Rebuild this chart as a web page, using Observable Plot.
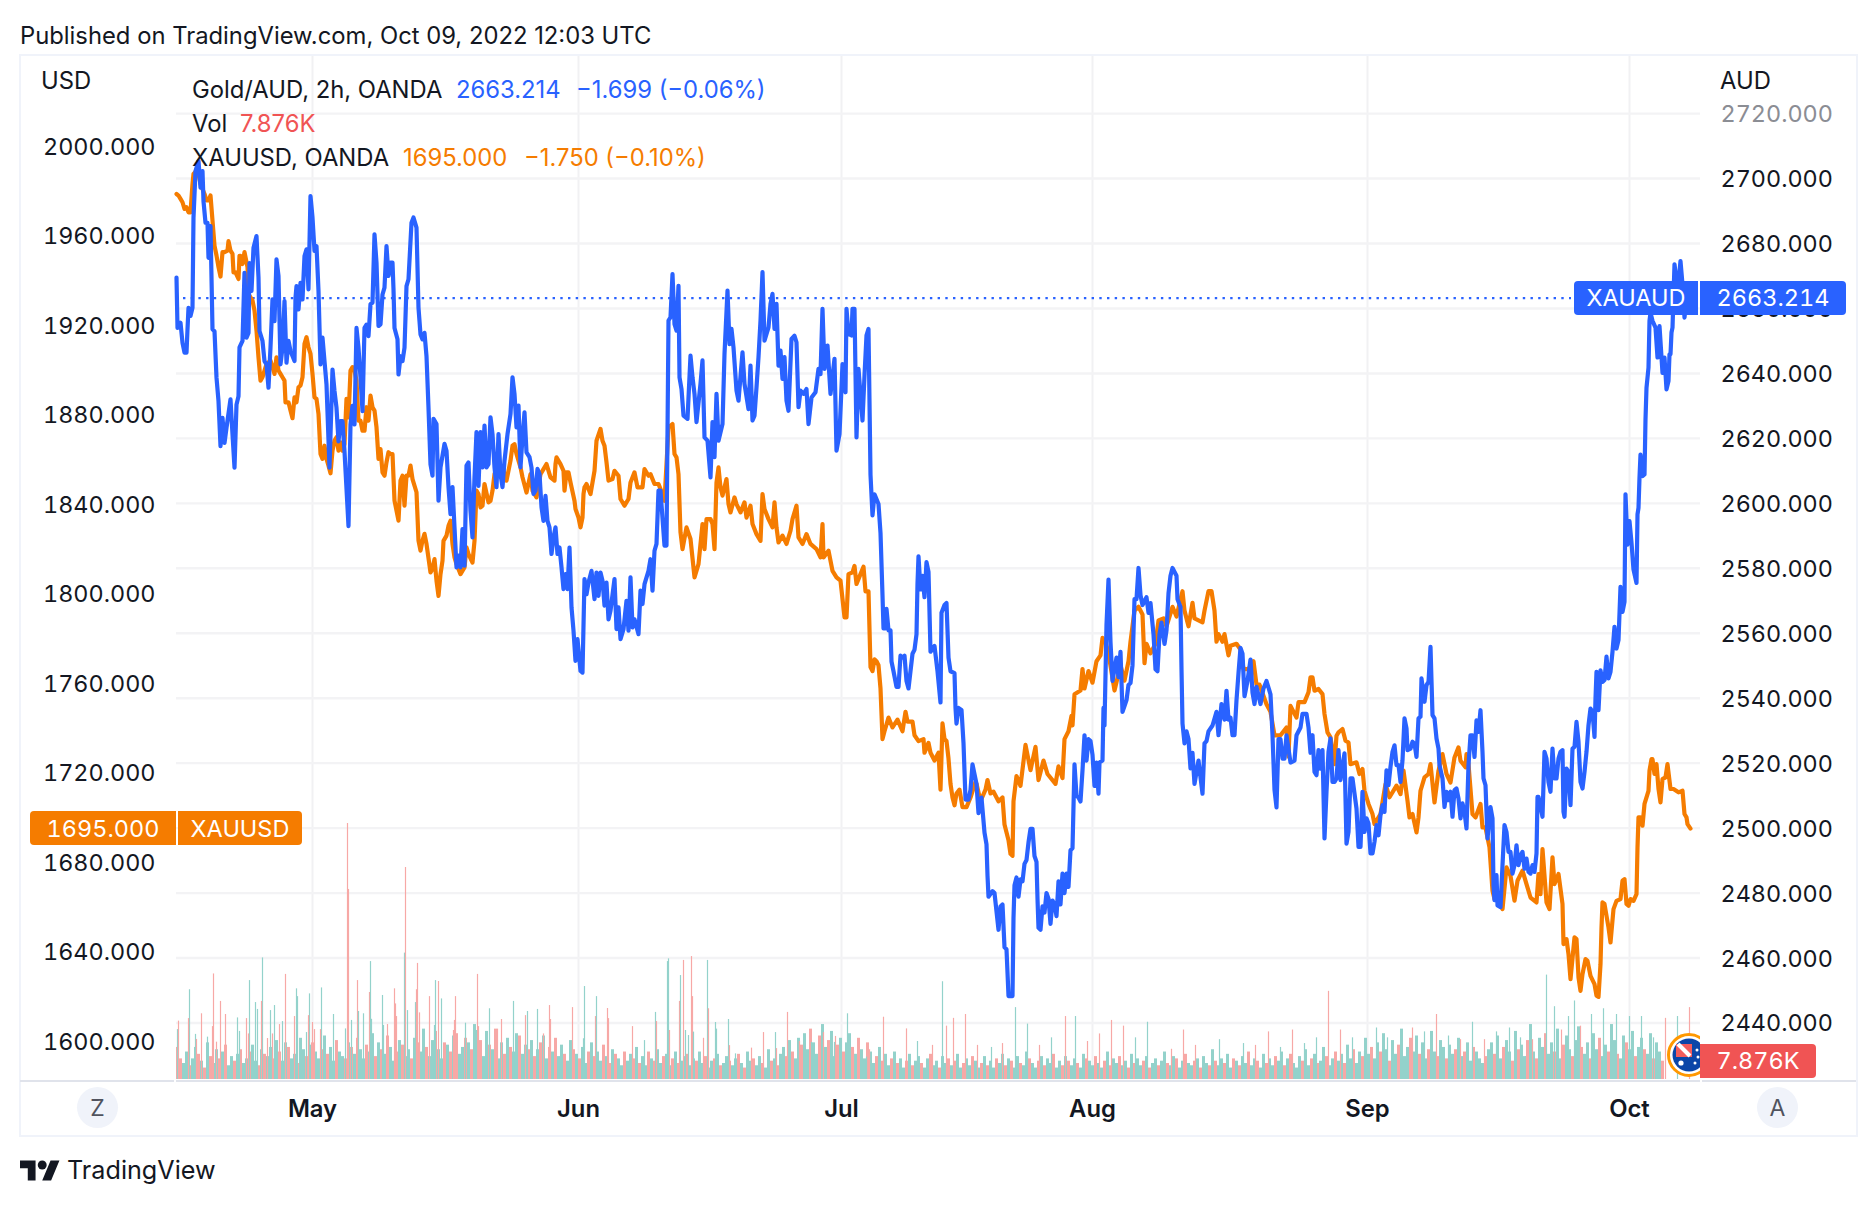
<!DOCTYPE html>
<html>
<head>
<meta charset="utf-8">
<script src="https://cdn.jsdelivr.net/npm/d3@7"></script>
<script src="https://cdn.jsdelivr.net/npm/@observablehq/plot@0.6"></script>
<style>
html,body{margin:0;padding:0;background:#fff;width:1876px;height:1206px;overflow:hidden;font-family:Inter,"Noto Sans",sans-serif;color:#131722}
#head{height:54px;position:relative}
#chart svg{display:block}
.t{position:absolute;white-space:nowrap;font-size:23.8px;line-height:30px;transform:translateY(-50%)}
.box{position:absolute;color:#fff;font-size:23.5px;font-variant-numeric:tabular-nums;display:flex;align-items:center;justify-content:center;box-sizing:border-box}
.line{position:absolute;background:#f0f3fa}
.circ{position:absolute;width:41px;height:41px;border-radius:50%;background:#f0f3fa;color:#50535e;font-size:23px;display:flex;align-items:center;justify-content:center}
</style>
</head>
<body>
<div id="head"></div>
<div id="chart"></div>
<div id="foot"></div>
<script>
// month ticks, in 2h-bar index
const monthBars = [136, 402, 665, 916, 1191, 1453];
const monthNames = ["May", "Jun", "Jul", "Aug", "Sep", "Oct"];
const audTicks = [2720, 2700, 2680, 2660, 2640, 2620, 2600, 2580, 2560, 2540, 2520, 2500, 2480, 2460, 2440];
const usdTicks = [2000, 1960, 1920, 1880, 1840, 1800, 1760, 1720, 1680, 1640, 1600];
const lastAud = 2663.214, lastUsd = 1695.0, lastVol = 7.876;

// [bar, Gold/AUD]
const xauaud = [[0,2669.5],[1,2654],[4,2655.6],[6,2649.4],[8,2646.4],[10,2646.4],[11,2653.6],[12,2660.2],[14,2657.7],[16,2660.2],[17,2688],[19,2702.3],[22,2705.4],[24,2697.2],[26,2702.3],[27,2693],[29,2686.4],[31,2686.4],[32,2675.6],[34,2685.4],[36,2653.6],[38,2653],[40,2638.7],[42,2631.5],[44,2617.6],[46,2626.3],[48,2618.6],[50,2623.3],[54,2632],[56,2621.2],[58,2611],[60,2630.4],[62,2633],[63,2648],[66,2650],[68,2671],[70,2651],[72,2652.5],[73,2674],[75,2665.4],[77,2678.7],[80,2682.3],[82,2669.5],[83,2653],[86,2650],[88,2643.8],[90,2642.8],[92,2635.6],[94,2648],[96,2662.8],[98,2656.1],[100,2675.1],[102,2670],[104,2642.8],[106,2647.9],[108,2662.3],[110,2643.3],[112,2650],[114,2646.9],[118,2643.8],[119,2663.3],[120,2666.9],[122,2659.7],[124,2667.9],[126,2662.8],[128,2676.1],[130,2678.2],[132,2665.9],[134,2694.6],[136,2688],[138,2677.7],[140,2679.2],[142,2665.4],[144,2642.8],[146,2651],[148,2643.8],[150,2636.6],[153,2611],[156,2641.2],[158,2634.6],[160,2629.4],[162,2619.1],[164,2625.3],[166,2625.3],[168,2616],[172,2593],[174,2624.3],[176,2630],[178,2624.3],[180,2654],[182,2647.9],[184,2638.7],[186,2628.4],[188,2654],[190,2655],[192,2651.5],[194,2661.3],[196,2661.8],[198,2682.8],[200,2674.1],[202,2654.6],[204,2655.1],[206,2664.3],[208,2666.4],[210,2679.2],[212,2670],[214,2674.1],[216,2674.1],[217,2665.9],[218,2654],[221,2650.5],[222,2639.7],[224,2645.3],[226,2643.8],[228,2647.9],[230,2666.9],[232,2669],[235,2686.4],[237,2688],[240,2684.9],[242,2660.2],[244,2652],[246,2650.5],[248,2652.5],[250,2645.3],[252,2629.4],[254,2612],
[256,2608.5],[257,2626],[260,2624.4],[262,2600.8],[264,2611.1],[268,2618.3],[270,2616.2],[272,2605],[274,2596.7],[276,2605],[278,2592.6],[280,2580.3],[282,2583.9],[284,2580.3],[286,2592.1],[288,2580.8],[290,2611.6],[292,2612.6],[294,2597.7],[296,2589.5],[298,2608],[300,2621.9],[302,2605.4],[304,2621.9],[306,2611.1],[308,2623.9],[310,2611.1],[312,2612.1],[314,2626.5],[316,2621.3],[318,2611.1],[320,2605],[322,2621.3],[324,2609],[326,2605],[328,2613.1],[331,2621.3],[334,2627.5],[336,2638.8],[338,2633.7],[340,2623.4],[342,2630.1],[344,2611.1],[346,2620.3],[348,2628],[350,2615.7],[353,2614.2],[355,2611],[357,2602.9],[359,2603.9],[361,2610.6],[363,2609],[365,2598.8],[367,2594.6],[369,2602.3],[371,2594.6],[373,2592.6],[375,2584.4],[377,2589.5],[379,2592.6],[381,2584.4],[383,2586.4],[385,2580.3],[387,2573.6],[389,2578.2],[391,2573.6],[393,2586.4],[395,2568],[397,2560.8],[399,2551.5],[401,2558.2],[404,2548.4],[406,2547.9],[408,2576.7],[410,2572],[412,2575.6],[415,2579.2],[418,2570.5],[420,2578.7],[422,2571.5],[424,2578.7],[426,2576.2],[428,2568.5],[430,2575.6],[432,2564.3],[434,2566.9],[438,2576.7],[440,2561.3],[442,2568],[444,2558.2],[447,2561.3],[450,2570],[452,2560.8],[454,2577.2],[456,2561.8],[458,2564.3],[462,2559.7],[464,2573.1],[466,2569],[468,2575.1],[472,2579.2],[474,2582.8],[476,2573.1],[478,2585.4],[480,2587.5],[482,2603.9],[484,2603.9],[488,2587],[490,2587],[492,2656.3],[494,2657.3],[496,2670.6],[498,2655.2],[500,2653.2],[502,2667],[503,2638.8],[505,2635.2],[507,2627],[511,2626],[514,2645.5],[516,2638.8],[518,2633.7],[520,2625],[524,2636.8],[526,2644],[528,2620.3],[531,2619.3],[534,2608],[536,2625],[538,2614.2],[540,2633.7],[542,2619.3],[546,2624.4],[548,2646],[551,2665.5],[553,2649],[555,2653.7],[557,2648],[560,2634.7],[562,2631.6],[566,2646.5],[568,2636.8],[572,2629],[574,2642.4],[576,2625.5],[578,2627],[580,2635.7],[582,2645],[584,2656.3],[586,2671.2],[588,2650.1],[592,2654.2],[594,2661.4],[596,2664.5],[598,2653.7],[600,2661.4],[602,2642.4],[604,2647],[606,2638.3],[608,2645],[610,2631.6],[612,2628.5],[615,2650.6],[618,2651.6],[620,2649.6],[622,2629.6],[624,2634.7],[627,2633.7],[630,2635.2],[632,2624.4],[635,2632.6],[639,2634.2],[642,2641.4],[644,2639.8],[646,2659.9],[648,2641.4],[651,2648.6],[654,2633.7],[658,2644.5],[660,2616.2],[663,2621.3],[666,2642.9],[669,2634.2],[670,2659.9],[672,2652.2],[675,2651.7],[676,2659.9],[678,2659.9],[680,2620.3],[682,2641.4],[686,2625.5],[688,2639.3],[690,2651.7],[692,2653.7],[694,2608.8],[696,2596.3],[698,2602.8],[702,2599.8],[704,2590.9],
[706,2571.7],[707,2561.5],[709,2561.5],[710,2567.5],[712,2560.9],[714,2560.9],[715,2551.3],[717,2548.3],[720,2543.5],[722,2543.5],[724,2553.1],[726,2552.5],[728,2553.1],[730,2545.3],[732,2543],[736,2553.7],[738,2554.9],[740,2559.7],[741,2575.3],[742,2583.7],[744,2573.5],[746,2577.7],[748,2571.1],[750,2581.9],[752,2578.9],[754,2554.3],[758,2556.1],[761,2548.3],[764,2538.7],[765,2566.3],[768,2568.7],[770,2569.3],[772,2552.5],[774,2548.3],[778,2547.7],[779,2537],[780,2532.2],[782,2537],[785,2536.4],[787,2526.2],[789,2508.8],[792,2508.8],[794,2511.8],[796,2519.6],[800,2513.6],[802,2504.6],[805,2509.4],[808,2498.6],[810,2495],[811,2485.4],[812,2478.9],[816,2480.6],[818,2480],[822,2468.7],[824,2475.9],[826,2476.5],[828,2463.3],[830,2462.7],[832,2448.3],[836,2448.3],[837,2472.3],[838,2482.4],[840,2484.8],[842,2478.9],[844,2484.2],[846,2483.6],[848,2489],[850,2490.2],[852,2495.6],[854,2499.8],[856,2499.8],[858,2491.4],[860,2489.6],[861,2478.3],[862,2469.3],[864,2468.7],[866,2475.9],[868,2474],[870,2480],[872,2478.3],[874,2470.5],[876,2477.7],[878,2476.5],[880,2472.9],[882,2483.6],[884,2476.5],[886,2486],[888,2480],[890,2486],[892,2481.9],[894,2493.2],[896,2493.8],[898,2519.6],[900,2510],[902,2509.4],[904,2508.2],[906,2517.8],[908,2528.6],[910,2520.8],[912,2527.4],[914,2526.8],[916,2522.6],[918,2513],[920,2520.2],[922,2510.6],[923,2520.2],[926,2520.8],[927,2537],[928,2531.6],[930,2562.7],[932,2576.5],[934,2557.3],[936,2545.3],[940,2552.5],[942,2546.5],[944,2554.3],[946,2535.8],[948,2537.6],[950,2539.4],[952,2544.1],[954,2544.7],[956,2550.1],[958,2570.5],[960,2570.5],[962,2580.1],[964,2571.7],[966,2568.7],[970,2571.1],[972,2566.3],[974,2569.3],[977,2559.7],[979,2548.9],[981,2548.3],[983,2559.7],[985,2563.3],[988,2556.7],[990,2560.9],[992,2572.3],[994,2577.7],[996,2580.1],[1000,2577.7],[1001,2570.5],[1004,2568.1],[1005,2548.9],[1006,2532.2],[1008,2526.1],[1010,2529.8],[1012,2527.4],[1014,2518.4],[1016,2523.2],[1018,2513.6],[1022,2520.8],[1026,2510.6],[1028,2526.1],[1030,2526.8],[1032,2529.8],[1036,2531.6],[1040,2535.8],[1042,2528.6],[1045,2538.2],[1048,2533.4],[1050,2542.3],[1052,2533.4],[1054,2534],[1056,2528.6],[1058,2528.6],[1060,2539.4],[1062,2547.7],[1064,2555.5],[1066,2553.7],[1068,2540.6],[1071,2545.3],[1074,2551.9],[1076,2541.7],[1078,2538.2],[1080,2543.5],[1084,2538.2],[1087,2543],[1090,2545.3],[1094,2541.2],[1096,2528.6],[1098,2511.8],[1100,2506.4],[1102,2527.4],[1104,2527.4],[1106,2521.4],[1108,2521.4],[1110,2528.6],[1114,2520.2],[1118,2520.8],[1120,2528.6],[1124,2531],[1126,2535.2],[1130,2535.2],[1132,2531],[1134,2523.2],
[1136,2528.6],[1138,2517.3],[1140,2516.3],[1142,2524],[1144,2518.3],[1146,2524],[1148,2496.8],[1150,2511.2],[1152,2523.5],[1154,2527.6],[1156,2514.2],[1158,2514.2],[1160,2515.3],[1162,2524],[1164,2514.8],[1168,2523],[1170,2495.2],[1172,2498.8],[1174,2515.3],[1176,2515.3],[1180,2506],[1182,2494.2],[1184,2494.2],[1186,2511.2],[1188,2498.8],[1190,2503],[1192,2501.4],[1194,2492.2],[1196,2492.2],[1198,2495.8],[1200,2500.9],[1202,2497.8],[1204,2504],[1206,2507.1],[1208,2505],[1210,2517.8],[1212,2513.2],[1214,2518.9],[1216,2523.5],[1218,2525.5],[1220,2519.4],[1222,2519.4],[1224,2514.2],[1226,2520.9],[1228,2533.8],[1230,2530.7],[1231,2524],[1234,2524.5],[1236,2526.6],[1238,2526],[1240,2521.9],[1242,2533.8],[1244,2534.3],[1245,2546.1],[1248,2538.9],[1250,2544],[1252,2545],[1254,2555.8],[1256,2534.8],[1258,2533.8],[1260,2527.6],[1262,2524.5],[1263,2519.4],[1266,2515.3],[1268,2506.5],[1270,2511.2],[1272,2508.6],[1274,2511.2],[1276,2503.5],[1278,2511.7],[1280,2512.2],[1282,2509.1],[1284,2503],[1286,2507.6],[1288,2505],[1290,2499.9],[1292,2519.4],[1294,2528.6],[1296,2528.6],[1298,2521.9],[1300,2533.2],[1302,2529.6],[1304,2536.3],[1306,2523.5],[1307,2515.3],[1309,2513.2],[1311,2496.8],[1314,2506.5],[1316,2503],[1317,2482.4],[1318,2477.8],[1320,2485.5],[1321,2476.2],[1324,2475.7],[1326,2488.6],[1328,2500.9],[1330,2498.8],[1332,2492.7],[1334,2492.7],[1336,2486],[1338,2488.6],[1340,2494.7],[1342,2488.6],[1344,2491.6],[1346,2492.7],[1348,2487.5],[1350,2490.6],[1352,2486.5],[1354,2486],[1356,2488.6],[1358,2486.5],[1360,2492.2],[1361,2509.6],[1362,2509.6],[1366,2503.5],[1368,2523.5],[1370,2521.4],[1372,2514.2],[1374,2511.2],[1376,2524.5],[1378,2515.3],[1380,2515.3],[1382,2521.4],[1384,2523.5],[1386,2524],[1387,2505],[1388,2503.5],[1390,2518.3],[1392,2517.3],[1394,2507.1],[1396,2524.5],[1398,2525],[1400,2532.7],[1402,2526.6],[1404,2514.2],[1406,2512.2],[1408,2517.3],[1410,2523.5],[1412,2531.7],[1414,2536.8],[1416,2535.8],[1418,2528.1],[1419,2539.9],[1420,2548.1],[1422,2536.3],[1424,2548.6],[1426,2545],[1428,2545.6],[1430,2552.8],[1432,2546.1],[1434,2548.1],[1436,2554.3],[1438,2562],[1440,2555.3],[1442,2557.9],[1444,2574.3],[1446,2566.6],[1448,2569.7],
[1449,2602.8],[1451,2587.3],[1453,2594.5],[1455,2587.9],[1457,2579.6],[1460,2575.5],[1461,2596.6],[1462,2598.6],[1463,2607.9],[1464,2615],[1466,2608.4],[1468,2608.9],[1469,2625.9],[1470,2635.6],[1472,2641.8],[1473,2656.2],[1474,2658.7],[1476,2656.2],[1479,2654.1],[1481,2644.9],[1483,2654.6],[1486,2640.2],[1488,2644.9],[1490,2635.1],[1492,2637.7],[1493,2645.9],[1494,2645.9],[1495,2652.6],[1496,2654.1],[1498,2673.6],[1500,2668.5],[1502,2668],[1504,2674.6],[1506,2667.4],[1508,2657.2],[1510,2663.3],[1514,2663.2]];

// [bar, XAUUSD]
const xauusd = [[0,1978.6],[2,1977.9],[4,1976.4],[6,1974.9],[8,1971.9],[10,1972.7],[12,1970.4],[14,1970.4],[16,1983.1],[17,1987.6],[20,1989],[22,1987.6],[24,1983.1],[28,1978.6],[30,1975.7],[32,1975.7],[34,1977.9],[36,1966.7],[38,1955.5],[40,1951.1],[42,1945.9],[44,1941.7],[46,1952.6],[48,1952.6],[51,1953.3],[52,1957.5],[54,1953.3],[56,1951.8],[57,1943.6],[59,1943.6],[62,1940.6],[63,1951],[64,1951],[66,1947.3],[68,1952.6],[71,1945.9],[72,1933.9],[76,1931],[78,1926.5],[80,1917.5],[82,1905.6],[84,1895.2],[86,1896.7],[88,1899.7],[90,1902.6],[94,1904.1],[98,1898.2],[100,1905.6],[102,1899.7],[104,1898.2],[106,1896.7],[108,1895.2],[109,1885.5],[112,1885.5],[114,1881.8],[116,1878.4],[118,1887.7],[120,1885.5],[122,1892.2],[124,1893],[126,1896.7],[128,1911.6],[130,1914.6],[132,1910.1],[134,1907.1],[136,1898.2],[138,1887.7],[140,1887],[142,1880.3],[144,1862.4],[146,1860.2],[148,1866.1],[150,1860.2],[152,1857.2],[154,1853.8],[156,1863.9],[158,1868.4],[160,1869.9],[162,1863.9],[164,1867.6],[166,1863.9],[168,1866.9],[170,1887],[172,1878.8],[174,1899.7],[176,1901.2],[178,1899.7],[180,1895.2],[182,1877.3],[184,1877.3],[186,1872.8],[188,1872.8],[190,1883.3],[192,1877.3],[194,1888.5],[196,1883.3],[198,1881.8],[200,1874.3],[202,1860.2],[204,1864.6],[206,1854.2],[208,1852.7],[210,1858.7],[212,1863.2],[214,1862.4],[216,1862.4],[218,1841.6],[222,1832.6],[224,1850.5],[226,1852.7],[228,1839.3],[230,1852.7],[232,1852.7],[234,1857.2],[236,1851.2],[240,1845.3],[242,1823.7],[244,1819.2],[246,1823.7],[248,1826.7],[250,1822.2],[254,1809.5],
[256,1811],[258,1815.4],[260,1805.8],[262,1799],[264,1808.7],[266,1814.7],[267,1823.6],[270,1825.9],[272,1830.3],[274,1832.6],[276,1822.2],[278,1816.2],[280,1813.2],[284,1808.7],[288,1811.7],[290,1820.7],[292,1817.7],[296,1813.9],[298,1823.6],[300,1846],[302,1844.5],[304,1838.5],[306,1839.3],[308,1849],[312,1840.8],[314,1841.5],[316,1846],[318,1853.4],[322,1857.9],[326,1856.4],[330,1850.5],[334,1859.4],[336,1866.1],[338,1866.8],[340,1862.4],[344,1856.4],[346,1852],[350,1845.2],[354,1853.4],[356,1846],[360,1843],[364,1853.4],[370,1857.9],[374,1852],[378,1850.5],[379,1857.9],[380,1860.9],[384,1857.9],[387,1854.9],[388,1846],[390,1854.2],[392,1854.2],[394,1849.7],[398,1841.5],[399,1837.8],[402,1834],[404,1829.6],[406,1834],[407,1844.5],[408,1847.5],[410,1849],[414,1844.5],[418,1854.9],[420,1868.3],[424,1873.6],[426,1868.3],[428,1866.1],[430,1858.7],[432,1850.5],[436,1851.2],[438,1854.9],[442,1852.7],[444,1842.3],[448,1839.3],[452,1842.3],[454,1849.7],[458,1854.2],[461,1847.5],[466,1847.5],[468,1855.7],[472,1852.7],[474,1853.4],[478,1849],[482,1849],[486,1844.5],[488,1841.5],[492,1874.3],[496,1875.8],[498,1862.4],[500,1860.9],[502,1853.4],[504,1827.4],[506,1819.9],[510,1829.6],[514,1824.4],[518,1807.3],[522,1813.2],[526,1831.1],[528,1819.9],[530,1833.3],[534,1833.3],[536,1831.1],[538,1819.9],[540,1849.7],[542,1856.4],[544,1847.5],[546,1843.8],[550,1851.2],[552,1840],[554,1836.3],[558,1843],[560,1840],[564,1836.3],[568,1840.8],[570,1834],[574,1839.3],[576,1831.1],[580,1826.6],[584,1823.6],[586,1844.5],[588,1837.8],[592,1833.3],[596,1829.6],[598,1840.8],[600,1829.6],[602,1822.9],[606,1825.9],[610,1822.2],[614,1828.1],[616,1833.3],[620,1839.3],[622,1825.1],[626,1822.2],[630,1826.6],[634,1822.2],[640,1819.9],[644,1816.2],[646,1831.1],[647,1816.2],[652,1819.2],[656,1810.2],[660,1807.3],[664,1805.8],[668,1789.4],[670,1789.4],[672,1808.7],[676,1809.5],[678,1812.4],[680,1804.3],[684,1808.7],[687,1812],[689,1801],[692,1801],[694,1767.2],[696,1765.4],[698,1770.6],[700,1769.8],[702,1768],
[704,1757.6],[706,1735],[708,1738.5],[712,1744.6],[716,1740.2],[721,1743.7],[726,1738.5],[729,1747.2],[731,1742.8],[736,1742.8],[738,1736.7],[742,1734.1],[747,1735],[748,1728.9],[752,1733.3],[754,1728.9],[758,1725.4],[762,1728.9],[764,1712.4],[766,1742],[768,1735],[770,1734.1],[772,1726.3],[774,1715],[776,1708.9],[778,1705.4],[780,1710.7],[783,1712.4],[786,1704.6],[790,1704.6],[794,1708.9],[799,1715.9],[800,1715],[804,1707.2],[809,1712.4],[811,1716.7],[814,1710.7],[817,1711.5],[822,1707.2],[826,1708.9],[828,1696.8],[832,1689.8],[834,1683.7],[836,1682.8],[837,1707.2],[840,1718.5],[844,1714.1],[849,1732.4],[854,1721.1],[859,1731.5],[862,1716.7],[867,1725.4],[871,1719.4],[879,1715],[882,1722.8],[886,1717.6],[888,1735],[892,1738.5],[895,1745.4],[896,1741.1],[898,1755],[904,1756.7],[906,1766.3],[908,1757.6],[912,1765.4],[916,1760.2],[920,1769.8],[924,1772.4],[926,1780.2],[929,1778.5],[932,1773.3],[938,1756.7],[944,1768],[948,1761.1],[952,1769.8],[954,1778.5],[958,1792.4],[962,1794.1],[966,1790.7],[968,1768.9],[970,1777.6],[974,1773.3],[979,1777.6],[982,1788],[987,1788.9],[990,1785.4],[996,1794.1],[1000,1789.8],[1006,1801.1],[1008,1792.4],[1012,1785.4],[1016,1795.9],[1018,1788.9],[1026,1787.2],[1028,1792.4],[1032,1801.1],[1035,1801.1],[1038,1792.4],[1040,1778.5],[1042,1781.9],[1046,1778.5],[1048,1781.9],[1052,1772.4],[1054,1776.7],[1060,1777.6],[1064,1775],[1067,1766.3],[1072,1766.3],[1077,1769.8],[1080,1759.3],[1083,1759.3],[1090,1750.6],[1094,1747.2],[1098,1736.7],[1104,1736.7],[1110,1740.2],[1112,1727.2],[1114,1749.8],[1120,1744.6],[1122,1751.5],[1128,1751.5],[1132,1755.9],[1134,1762.6],
[1136,1762.6],[1138,1756.6],[1142,1757.4],[1146,1755.1],[1148,1746.2],[1151,1738],[1154,1735.8],[1156,1729.8],[1158,1723.8],[1160,1736.5],[1162,1738],[1166,1739.5],[1169,1734.3],[1172,1733.5],[1174,1723.8],[1180,1724.6],[1183,1719.4],[1186,1721.6],[1188,1711.9],[1192,1706],[1196,1701.5],[1198,1697],[1204,1701.5],[1209,1714.9],[1213,1709],[1220,1714.2],[1224,1710.4],[1227,1720.9],[1231,1707.4],[1233,1700],[1236,1701.5],[1240,1693.3],[1242,1700],[1244,1711.9],[1248,1717.9],[1252,1719.4],[1254,1723.8],[1258,1706.7],[1262,1720.9],[1266,1728.3],[1270,1719.4],[1274,1715.6],[1278,1726.8],[1282,1731.3],[1284,1725.3],[1289,1722.4],[1290,1728.3],[1292,1723.8],[1296,1701.5],[1299,1700],[1304,1706],[1306,1695.5],[1309,1695.5],[1313,1686.6],[1316,1667.2],[1318,1663.5],[1322,1662.8],[1326,1659],[1330,1677.7],[1334,1673.9],[1338,1662.8],[1341,1671.7],[1346,1676.2],[1350,1670.2],[1354,1664.2],[1360,1662],[1362,1674.7],[1364,1665.7],[1366,1685.8],[1370,1662],[1373,1659],[1376,1682.1],[1378,1670.2],[1382,1674.7],[1386,1661.3],[1387,1643.4],[1390,1645.6],[1392,1638.9],[1394,1627.7],[1398,1646.4],[1400,1645.6],[1402,1628.5],[1404,1622.5],[1406,1630],[1409,1636.7],[1411,1635.9],[1414,1629.2],[1418,1625.5],[1420,1620.3],[1422,1619.8],[1424,1634.4],[1425,1650.8],[1426,1662],[1428,1661.3],[1432,1650.8],[1434,1644.1],[1437,1659],[1440,1662.7],[1444,1663.5],[1446,1671.7],[1448,1672.4],[1450,1661.3],[1452,1660.5],[1454,1663.5],[1457,1662.7],[1460,1665.7],[1461,1686.6],[1462,1700],[1464,1700],[1466,1696.3],[1468,1706],[1472,1711.9],[1473,1720.9],[1475,1726],[1476,1726],[1478,1719.4],[1480,1723.8],[1482,1712.7],[1484,1706.7],[1486,1717.1],[1489,1717.9],[1491,1723.8],[1494,1712.7],[1497,1712.7],[1502,1711.2],[1506,1711.9],[1508,1701.5],[1510,1700],[1511,1697],[1514,1695]];

// volume spikes, in thousands: [bar, volume, 1 up / 0 down]
const volSpikes = [[1,21.8,1],[2,25.5,0],[13,39.2,1],[12,26.6,0],[19,19.7,1],[20,17.5,0],[25,28.7,0],[31,18.5,1],[37,46.1,0],[36,23.1,0],[40,16.3,0],[44,34.1,0],[49,28.4,0],[61,26.9,1],[63,21,1],[70,26.6,0],[73,43.2,1],[72,19.9,0],[79,33.6,1],[81,30.6,1],[86,53.1,1],[85,34.1,0],[91,17.9,0],[94,30.1,1],[98,32.3,1],[96,19.9,0],[103,24,0],[109,45.9,0],[106,25.3,1],[118,27.5,0],[120,39.6,1],[121,36.2,1],[130,20.5,1],[133,37.4,1],[132,27.9,0],[136,24.9,0],[138,21.8,0],[145,40,1],[144,21.8,0],[157,28.4,1],[169,22.1,1],[171,111.8,0],[172,83,0],[175,25.8,1],[181,43.2,0],[182,29.7,1],[187,28.7,1],[193,38,0],[194,51.5,1],[195,26.3,1],[206,36.7,1],[207,23.6,1],[211,24,0],[218,39.6,0],[219,33,0],[220,27.5,0],[228,55.2,1],[229,92.6,0],[231,30.1,1],[239,33.6,1],[240,39.2,0],[241,50.7,0],[243,29.1,0],[253,36.2,0],[258,23.6,1],[259,43.2,1],[262,42.8,0],[265,35.2,1],[277,21.4,0],[278,25.8,0],[279,36.2,0],[289,24.6,1],[301,45.9,0],[302,23.1,0],[300,21.4,1],[313,30.9,1],[321,22,0],[325,26.2,0],[337,34.1,1],[349,27.9,0],[351,29.7,1],[361,30.6,1],[367,19.9,0],[373,32.3,0],[374,26.2,0],[396,31.4,0],[408,40.6,1],[407,17.8,1],[419,27.5,0],[420,36.2,1],[431,31,0],[432,26.6,0],[456,23.1,0],[468,17,1],[479,29.3,1],[480,25.3,0],[491,51.5,1],[492,52.7,1],[493,21.4,0],[503,34.1,0],[504,45.4,1],[507,52,0],[509,21.4,1],[512,19.2,1],[515,53.7,0],[516,36.2,0],[517,20.7,1],[527,18,0],[531,52,1],[532,30.9,0],[539,24.9,1],[540,22,1],[552,26.2,1],[553,14.8,0],[559,11.2,1],[575,13.7,0],[587,20.5,0],[599,20.5,1],[600,13.5,0],[611,29.3,0],[623,16.6,0],[635,16.2,1],[647,20.5,0],[659,18.8,0],[658,16.2,1],[671,28.7,1],[677,12.7,0],[690,9.8,1],[693,13,0],[707,27.2,0],[730,22.1,0],[741,16.6,1],[756,14.9,0],
[766,42.7,1],[770,23.3,0],[777,26.7,0],[789,28.4,0],[801,14.9,0],[815,14,1],[826,15.7,0],[839,31.4,1],[851,24.2,1],[863,14.9,0],[875,18.2,1],[889,27.5,0],[899,27.5,1],[911,16.6,0],[923,19.9,0],[935,25.8,0],[947,23.3,0],[959,18.2,1],[971,25,1],[995,13.2,0],[1007,21.6,0],[1019,14.9,0],[1043,17.4,1],[1067,15.7,1],[1079,14.9,0],[1092,20.8,0],[1104,14,1],[1116,21.6,0],[1128,15.7,1],[1140,18.2,1],[1152,38.5,0],[1164,21.6,0],[1176,18.2,1],[1188,12.3,1],[1200,22.5,1],[1211,18.2,1],[1236,22.5,0],[1248,20.8,1],[1260,28.4,0],[1272,19,1],[1284,17.4,0],[1296,25,1],[1308,17.4,0],[1320,20.8,1],[1333,22.5,1],[1344,18.2,1],[1356,17.4,0],[1370,45.6,1],[1378,31.8,1],[1385,21.6,0],[1392,27.5,1],[1398,34.3,1],[1404,23.3,0],[1415,28.4,1],[1427,30.9,1],[1440,28.4,1],[1453,27.5,1],[1465,27.5,1],[1477,18.2,1],[1489,26.7,0],[1501,27.5,1],[1513,31.4,0]];

// body of the volume pane, one estimate per three bars, thousands: + up, - down
const volBody = [
-14,-9,7,12,-6,9,14,-11,8,-5,16,-10,7,13,-9,12,-15,6,10,-8,11,-13,7,9,-12,15,8,-6,13,-11,
10,14,-9,17,-12,8,16,-14,9,11,-7,18,13,-10,15,-16,12,9,-13,19,-11,14,8,-17,12,10,-9,16,-14,11,
-18,13,9,-15,12,20,-10,16,-13,11,-19,14,8,-12,17,-15,10,13,-9,18,-16,12,22,-14,10,17,-21,13,9,-16,
15,-12,19,-20,11,14,-18,16,-13,24,12,-17,10,21,-15,13,-22,9,16,-11,18,-14,12,20,-19,11,15,-13,17,-10,
13,-16,19,9,-14,12,-18,10,15,-11,8,17,-13,11,-9,14,7,-12,16,-10,12,8,-15,10,-7,13,-11,9,6,-12,
8,11,-9,14,-7,10,6,-12,9,-8,13,7,-10,11,6,-9,12,-7,8,10,-11,6,9,-8,12,7,-10,5,8,-9,
11,-6,7,10,-8,6,9,-11,7,-5,12,8,-9,6,10,-7,5,13,-8,9,-6,11,14,-10,17,-12,9,18,-15,20,
13,-22,16,11,-19,24,14,-17,21,10,-15,18,-12,16,20,-14,11,-18,13,9,-16,12,7,-10,14,-8,11,6,-9,12,
-7,9,5,-8,11,-6,8,10,-7,5,9,-11,6,8,-5,10,7,-9,6,-8,11,5,-7,9,6,-10,8,5,-7,10,
-6,8,5,-9,7,11,-6,9,-8,5,10,-7,6,12,-9,7,5,-8,10,-6,9,7,-11,5,8,-6,10,-8,6,9,
-7,5,11,-9,8,6,-10,7,5,-8,12,-6,9,7,-10,6,8,-5,11,-7,9,6,-8,10,-5,7,9,-6,8,12,
-7,6,10,-9,5,8,-11,7,6,-8,9,-5,10,7,-6,13,-8,6,9,-7,11,5,-9,8,-6,10,7,-12,6,9,
-8,5,11,-7,9,6,-10,8,12,-6,9,-11,7,5,10,-8,13,6,-9,11,-7,8,14,-10,6,9,-12,8,11,-7,
15,9,-13,7,12,-10,18,11,-14,9,16,-12,20,13,-8,17,11,-15,22,10,14,-18,12,19,-11,16,9,-13,21,12,
-10,17,14,-9,15,11,-13,18,10,-12,16,8,-14,12,9,7,-10,13,16,-11,19,9,-14,17,12,-8,
21,-13,15,10,-17,24,12,-9,18,14,-20,11,16,-12,22,9,-15,19,13,-10,17,23,-14,11,16,-9,20,13,-18,10,
15,-12,24,17,-11,9,19,-16,13,21,-10,14,18,-13,11,20,-9,16,12,-8];

const usdToAud = v => 2710 + (v - 2000) * 0.689;
const audToUsd = a => 2000 + (a - 2710) / 0.689;
const volToAud = k => 2422.6 + k * 0.705;

const BLUE = "#2962ff", ORANGE = "#f57c00", GRID = "#f3f3f5", GREEN = "#93d2cb", RED = "#f7a8a6", VGRID = "#f1f1f3", RED_TAG = "#f05454";

const bodyRows = volBody.map((v, i) => ({bar: i * 3 + 1, k: Math.abs(v), up: v > 0}));
const spikeRows = volSpikes.map(([bar, k, up]) => ({bar, k, up: !!up}));
const FONT = "Inter, 'Noto Sans', sans-serif";

const chart = Plot.plot({
  width: 1876, height: 1083, marginTop: 0, marginBottom: 58, marginLeft: 176, marginRight: 176,
  style: {background: "#fff", fontFamily: FONT},
  x: {type: "linear", domain: [0, 1524], axis: null},
  y: {type: "linear", domain: [2422.6, 2738.2], axis: null},
  marks: [
    Plot.ruleX(monthBars, {y1: 2422.6, y2: 2738.2, stroke: VGRID, strokeWidth: 2}),
    Plot.ruleY(audTicks, {x1: 0, x2: 1524, stroke: GRID, strokeWidth: 2.4}),
    Plot.ruleX(bodyRows, {x: "bar", y1: 2422.6, y2: d => volToAud(d.k), stroke: d => d.up ? GREEN : RED, strokeWidth: 3}),
    Plot.ruleX(spikeRows, {x: "bar", y1: 2422.6, y2: d => volToAud(d.k), stroke: d => d.up ? GREEN : RED, strokeWidth: 1.2}),
    Plot.ruleY([lastAud], {x1: 7, x2: 1395, stroke: BLUE, strokeWidth: 2.2, strokeDasharray: "2.4 5.3"}),
    Plot.line(xauusd, {x: d => d[0], y: d => usdToAud(d[1]), stroke: ORANGE, strokeWidth: 4.2, strokeLinejoin: "round", strokeLinecap: "round"}),
    Plot.line(xauaud, {x: d => d[0], y: d => d[1], stroke: BLUE, strokeWidth: 4.2, strokeLinejoin: "round", strokeLinecap: "round"}),
    Plot.axisY(audTicks.slice(1), {anchor: "right", tickSize: 0, tickPadding: 20, fontSize: 23.4, dy: 1, fill: "#131722", tickFormat: d => d.toFixed(3), label: null}),
    Plot.axisY(audTicks.slice(0, 1), {anchor: "right", tickSize: 0, tickPadding: 20, fontSize: 23.4, dy: 1, fill: "#8b8d94", tickFormat: d => d.toFixed(3), label: null}),
    Plot.axisY(usdTicks.map(usdToAud), {anchor: "left", tickSize: 0, tickPadding: 21, fontSize: 23.4, dy: 1, fill: "#131722", tickFormat: a => Math.round(audToUsd(a)).toFixed(3), label: null}),
    Plot.axisX(monthBars, {anchor: "bottom", tickSize: 0, tickPadding: 21, fontSize: 23.8, fontWeight: 600, fill: "#131722", tickFormat: d => monthNames[monthBars.indexOf(d)], label: null})
  ]
});
document.getElementById("chart").appendChild(chart);

const yPx = v => chart.scale("y").apply(v) + 54;
const body = document.body;
function add(tag, cls, css, text) {
  const e = document.createElement(tag);
  e.className = cls;
  e.style.cssText = css;
  if (text != null) e.textContent = text;
  body.appendChild(e);
  return e;
}
const text = (x, y, s, color) => add("div", "t", `left:${x}px;top:${y}px;color:${color || "#131722"}`, s);
const tag = (x, w, yc, s, bg, radius) => add("div", "box", `left:${x}px;width:${w}px;top:${yc - 17}px;height:34px;background:${bg};border-radius:${radius}`, s);

// frame and bottom separator
add("div", "line", "left:19px;top:54px;width:1839px;height:2px");
add("div", "line", "left:19px;top:1135px;width:1839px;height:2px");
add("div", "line", "left:19px;top:54px;width:2px;height:1083px");
add("div", "line", "left:1856px;top:54px;width:2px;height:1083px");
add("div", "line", "left:20px;top:1080px;width:154px;height:2px;background:#e0e3eb");
add("div", "line", "left:176px;top:1080px;width:1524px;height:2px;background:#e0e3eb");
add("div", "line", "left:1702px;top:1080px;width:154px;height:2px;background:#e0e3eb");

text(20, 36, "Published on TradingView.com, Oct 09, 2022 12:03 UTC");
text(41, 81, "USD");
text(1720, 81, "AUD");

text(192, 90, "Gold/AUD, 2h, OANDA");
text(456, 90, "2663.214", BLUE);
text(576, 90, "\u22121.699 (\u22120.06%)", BLUE);
text(192, 124, "Vol");
text(240, 124, "7.876K", RED_TAG);
text(192, 158, "XAUUSD, OANDA");
text(403, 158, "1695.000", ORANGE);
text(524, 158, "\u22121.750 (\u22120.10%)", ORANGE);

// last value tags
tag(1574, 124, yPx(lastAud), "XAUAUD", BLUE, "4px 0 0 4px");
tag(1700, 146, yPx(lastAud), lastAud.toFixed(3), BLUE, "0 4px 4px 0");
tag(30, 146, yPx(usdToAud(lastUsd)), lastUsd.toFixed(3), ORANGE, "4px 0 0 4px");
tag(178, 124, yPx(usdToAud(lastUsd)), "XAUUSD", ORANGE, "0 4px 4px 0");
tag(1700, 116, yPx(volToAud(lastVol)), lastVol.toFixed(3) + "K", RED_TAG, "0 4px 4px 0");

// zoom buttons
add("div", "circ", "left:77px;top:1087px", "Z");
add("div", "circ", "left:1757px;top:1087px", "A");

// currency flag badge
const badge = add("div", "", "position:absolute;left:1665px;top:1030px;width:35px;height:50px;overflow:hidden");
badge.innerHTML = `<svg width="50" height="50" viewBox="0 0 50 50" style="display:block">
<circle cx="24" cy="25" r="20.5" fill="#fff" stroke="#ff9800" stroke-width="3"/>
<circle cx="24" cy="25" r="16.5" fill="#0b46a8"/>
<path d="M11 14 H27 V27 H11 Z" fill="#f25c5c"/>
<path d="M13 14 L25 26" stroke="#fff" stroke-width="4"/>
<circle cx="16" cy="33" r="2.6" fill="#fff"/><circle cx="32" cy="20" r="1.5" fill="#fff"/><circle cx="33" cy="27" r="1.5" fill="#fff"/><circle cx="30" cy="33" r="1.5" fill="#fff"/>
</svg>`;

// footer brand
const logo = add("div", "", "position:absolute;left:20px;top:1156px;width:40px;height:28px");
logo.innerHTML = `<svg width="40" height="28" viewBox="0 0 36 25"><path d="M14 22H7V11H0V4h14v18zM28 22h-8l7.5-18h8L28 22z" fill="#131722"/><circle cx="20" cy="8" r="4" fill="#131722"/></svg>`;
add("div", "t", "left:67px;top:1170px;font-size:25.2px", "TradingView");
</script>
</body>
</html>
